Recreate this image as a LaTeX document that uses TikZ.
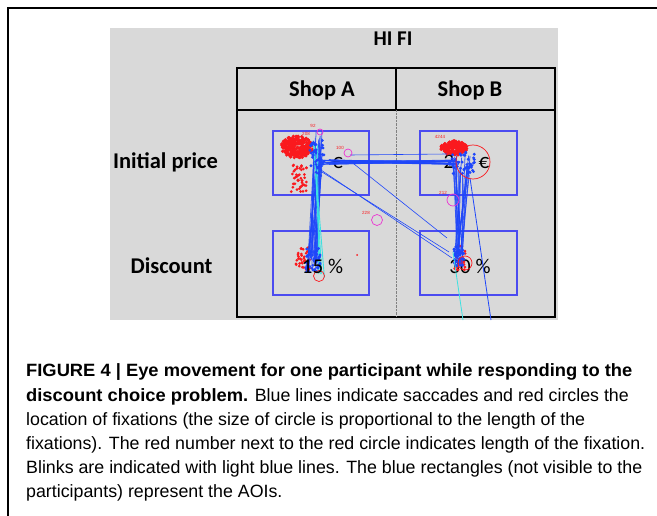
\documentclass[tikz,border=0pt]{standalone}
\usepackage{fontspec}
\setmainfont{Liberation Sans}
\newfontfamily\calfont{Carlito}
\newfontfamily\capfont{Liberation Sans}[BoldFeatures={FakeStretch=1.03}]
\usepackage{tikz}
\usetikzlibrary{positioning}
\definecolor{gg}{RGB}{217,217,217}
\definecolor{aoi}{RGB}{75,75,240}
\definecolor{sac}{RGB}{30,70,250}
\definecolor{fx}{RGB}{250,25,30}
\definecolor{bl}{RGB}{60,225,225}
\definecolor{mg}{RGB}{235,50,210}
\tikzset{
 lab/.style={font=\calfont\bfseries\fontsize{22.5}{24}\selectfont, inner sep=0pt, anchor=base},
 val/.style={font=\calfont\fontsize{21}{23}\selectfont, inner sep=0pt, anchor=base},
 aoibox/.style={draw=aoi, line width=1.1pt},
 captxt/.style={font=\capfont\fontsize{17.8}{20}\selectfont, inner sep=0pt, anchor=base west},
 ms/.style={font=\fontsize{4.5}{5}\selectfont, text=fx, inner sep=0pt},
 sacline/.style={sac, line width=0.8pt, opacity=0.85},
 fixring/.style={draw=#1, line width=0.7pt},
}

\begin{document}
\begin{tikzpicture}[x=1pt,y=-1pt]
	\useasboundingbox (0,0) rectangle (657,516);
	\fill[white] (0,0) rectangle (657,516);
	\draw[line width=2pt] (8,516)--(8,8)--(657,8);
	\fill[gg] (110,28) rectangle (558,320);
	\draw[line width=1.5pt] (237,68) rectangle (555,317);
	\draw[line width=1.5pt] (237,110)--(555,110);
	\draw[line width=1.5pt] (396,68)--(396,110);
	\draw[gray, densely dotted, line width=0.4pt] (396,110)--(396,317);
	\node[lab, font=\calfont\bfseries\fontsize{21}{23}\selectfont] (hifi) at (393,46) {HI FI};
	\node[lab] (shopa) at (322,97) {Shop A};
	\node[lab] (shopb) at (470,97) {Shop B};
	\node[lab] (initprice) at (165.5,169) {Initial price};
	\node[lab] (discount) at (171.5,273) {Discount};
	\draw[aoibox] (273,131) rectangle (369,195);
	\draw[aoibox] (420,131) rectangle (517,195);
	\draw[aoibox] (273,231) rectangle (369,295);
	\draw[aoibox] (420,231) rectangle (517,295);
	\node[val] (eura) at (337.5,169) {€};
	\node[val] (twob) at (449,169) {2};
	\node[val] (eurb) at (484,169) {€};
	\node[val] (discb) at (470,273) {30 \%};
	\pgfmathsetseed{42}
	\foreach \i in {1,...,260}{
		\pgfmathsetmacro\ang{180*rand}
		\pgfmathsetmacro\rr{sqrt(rnd)}
		\fill[fx] ({297+16*\rr*cos(\ang)},{147+11*\rr*sin(\ang)}) circle (1.8pt);
	}
	\foreach \i in {1,...,45}{
		\fill[fx] ({299+8*rand},{178+14*rand}) circle (1.5pt);
	}
	\foreach \i in {1,...,200}{
		\pgfmathsetmacro\ang{180*rand}
		\pgfmathsetmacro\rr{sqrt(rnd)}
		\fill[fx] ({454+13*\rr*cos(\ang)},{148+7*\rr*sin(\ang)}) circle (1.8pt);
	}
	\foreach \i in {1,...,35}{
		\fill[fx] ({303+7*rand},{258+12*rand}) circle (1.5pt);
		\fill[fx] ({460+6*rand},{258+12*rand}) circle (1.5pt);
	}
	\fill[fx] (357,255) circle (1pt);
	\foreach \i in {1,...,24}{
		\draw[sacline] ({318+5*rand},{150+20*rand}) -- ({312+5*rand},{262+12*rand});
	}
	\foreach \i in {1,...,4}{
		\draw[bl, line width=0.9pt] ({316+3*rand},{140+8*rand}) -- ({321+4*rand},{275+3*rand});
	}
	\foreach \i in {1,...,18}{
		\draw[sacline] ({325+6*rand},{162+2.5*rand}) -- ({455+6*rand},{162+2.5*rand});
	}
	\foreach \i in {1,...,22}{
		\draw[sacline] ({462+10*rand},{165+10*rand}) -- ({459+4*rand},{258+8*rand});
	}
	\foreach \i in {1,...,45}{
		\fill[sac] ({317+7*rand},{158+18*rand}) circle (1.6pt);
		\fill[sac] ({462+13*rand},{163+11*rand}) circle (1.6pt);
		\fill[sac] ({313+7*rand},{260+12*rand}) circle (1.6pt);
		\fill[sac] ({459+5*rand},{256+10*rand}) circle (1.6pt);
	}
	\draw[sac, line width=0.6pt] (322,172)--(449,252);
	\draw[sac, line width=0.6pt] (318,168)--(452,258);
	\draw[sac, line width=0.6pt] (349,160)--(447,238);
	\draw[sac, line width=0.6pt] (350,155)--(447,154);
	\draw[sac, line width=0.8pt] (470,178)--(491,320);
	\draw[bl, line width=0.8pt] (453,252)--(463,320);
	\draw[fixring=mg] (320,132) circle (3pt);
	\draw[fixring=mg] (348,153) circle (4pt);
	\draw[fixring=mg] (377,220) circle (5.5pt);
	\draw[fixring=mg] (453,200) circle (6pt);
	\draw[fixring=fx] (473,162) circle (17pt);
	\draw[fixring=fx] (319,276) circle (5.5pt);
	\draw[fixring=fx] (465,263) circle (7pt);
	\node[val] (disca) at (322.5,273) {15 \%};
	\node[ms] (f92) at (313,126) {92};
	\node[ms] (f208) at (306,134) {208};
	\node[ms] (f100) at (340,148) {100};
	\node[ms] (f228) at (366,213) {228};
	\node[ms] (f4244) at (440,137) {4244};
	\node[ms] (f212) at (443,193) {212};
	\node[captxt] (cap1) at (26,377) {\bfseries FIGURE 4 | Eye movement for one participant while responding to the};
	\node[captxt] (cap2) at (26,401) {\textbf{discount choice problem.} Blue lines indicate saccades and red circles the};
	\node[captxt] (cap3) at (26,425) {location of fixations (the size of circle is proportional to the length of the};
	\node[captxt] (cap4) at (26,449) {fixations). The red number next to the red circle indicates length of the fixation.};
	\node[captxt] (cap5) at (26,473) {Blinks are indicated with light blue lines. The blue rectangles (not visible to the};
	\node[captxt] (cap6) at (26,497) {participants) represent the AOIs.};
\end{tikzpicture}
\end{document}
